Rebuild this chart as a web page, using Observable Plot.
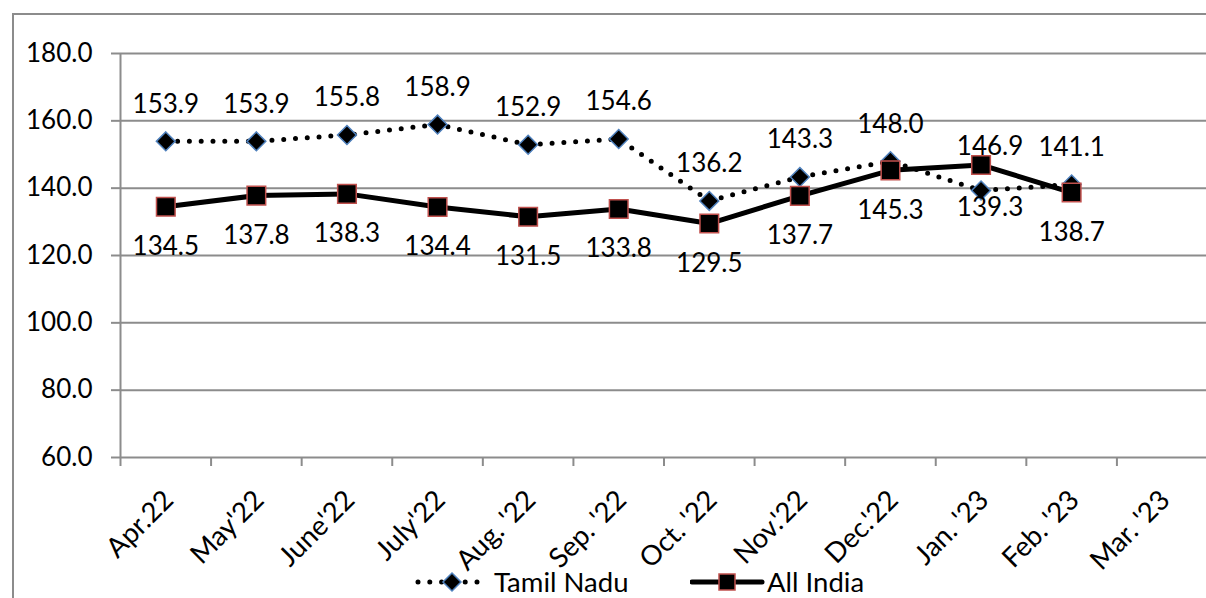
<!DOCTYPE html>
<html><head><meta charset="utf-8">
<script src="https://cdn.jsdelivr.net/npm/d3@7"></script>
<script src="https://cdn.jsdelivr.net/npm/@observablehq/plot@0.6"></script>
<style>
html,body{margin:0;padding:0;background:#fff;overflow:hidden}
#wrap{position:relative;width:1206px;height:598px;overflow:hidden;font-family:Lato,sans-serif;color:#000}
#frame{position:absolute;left:12px;top:13px;width:1300px;height:700px;border:2px solid #8c8c8c;box-sizing:border-box}
#chart{position:absolute;left:0;top:0}
.lg{position:absolute;top:566px;height:32px;display:flex;align-items:center;font-size:27.5px;line-height:32px}
.lg svg{display:block}
</style>
</head><body>
<div id="wrap">
  <div id="frame"></div>
  <div id="chart"></div>
  <div class="lg" style="left:414px">
    <svg width="72" height="32"><line x1="4" y1="16" x2="68" y2="16" stroke="#000" stroke-width="5" stroke-dasharray="0 11.8" stroke-linecap="round"/><path d="M38,7L47,16L38,25L29,16Z" fill="#000" stroke="#4f81bd" stroke-width="1.5"/></svg>
    <span style="margin-left:8px">Tamil Nadu</span>
  </div>
  <div class="lg" style="left:690px">
    <svg width="76" height="32"><line x1="2" y1="16" x2="72" y2="16" stroke="#000" stroke-width="5" stroke-linecap="round"/><rect x="29" y="8" width="16" height="16" fill="#000" stroke="#c0504d" stroke-width="1.5"/></svg>
    <span style="margin-left:1px">All India</span>
  </div>
</div>
<script>
const months = ["Apr.22","May'22","June'22","July'22","Aug. '22","Sep. '22","Oct. '22","Nov.'22","Dec.'22","Jan. '23","Feb. '23","Mar. '23"];
const tamilNadu = [153.9, 153.9, 155.8, 158.9, 152.9, 154.6, 136.2, 143.3, 148.0, 139.3, 141.1];
const allIndia  = [134.5, 137.8, 138.3, 134.4, 131.5, 133.8, 129.5, 137.7, 145.3, 146.9, 138.7];
const yTicks = [60, 80, 100, 120, 140, 160, 180];

const tn = tamilNadu.map((v, i) => ({i, v, other: allIndia[i]}));
const ai = allIndia.map((v, i) => ({i, v, other: tamilNadu[i]}));
const fmt = d => d.v.toFixed(1);
const grid = "#8c8c8c";
const fs = 26;

const chart = Plot.plot({
  width: 1206,
  height: 560,
  marginLeft: 120,
  marginRight: -1,
  marginTop: 53,
  marginBottom: 103,
  x: {type: "linear", domain: [-0.5, months.length - 0.5]},
  y: {domain: [60, 180]},
  style: {fontFamily: "Lato, sans-serif", fontSize: fs + "px", color: "#000", background: "transparent", overflow: "visible"},
  marks: [
    Plot.gridY(yTicks, {stroke: grid, strokeOpacity: 1, strokeWidth: 2}),
    Plot.axisY(yTicks, {tickSize: 9, tickPadding: 19, stroke: grid, strokeWidth: 2, tickFormat: d => d.toFixed(1), label: null, fontSize: fs}),
    Plot.axisX(d3.range(months.length + 1).map(k => k - 0.5), {tickSize: 9, stroke: grid, strokeWidth: 2, tickFormat: () => "", label: null}),
    Plot.axisX(d3.range(months.length), {tickSize: 0, tickPadding: 38, dx: 3, tickRotate: -45, tickFormat: i => months[i], label: null, fontSize: 27.5}),
    Plot.ruleX([-0.5], {stroke: grid, strokeWidth: 2}),
    Plot.line(tn, {x: "i", y: "v", stroke: "#000", strokeWidth: 5, strokeDasharray: "0 11.8", strokeLinecap: "round"}),
    Plot.dot(tn, {x: "i", y: "v", symbol: "diamond2", r: 8.5, fill: "#000", stroke: "#4f81bd", strokeWidth: 1.5}),
    Plot.line(ai, {x: "i", y: "v", stroke: "#000", strokeWidth: 5}),
    Plot.dot(ai, {x: "i", y: "v", symbol: "square", r: 10.5, fill: "#000", stroke: "#c0504d", strokeWidth: 1.5}),
    Plot.text(tn.filter(d => d.v >= d.other), {x: "i", y: "v", text: fmt, dy: -37, lineAnchor: "middle", fontSize: fs}),
    Plot.text(tn.filter(d => d.v < d.other), {x: "i", y: "v", text: fmt, dy: 17, dx: 9, lineAnchor: "middle", fontSize: fs}),
    Plot.text(ai.filter(d => d.v <= d.other), {x: "i", y: "v", text: fmt, dy: 40, lineAnchor: "middle", fontSize: fs}),
    Plot.text(ai.filter(d => d.v > d.other), {x: "i", y: "v", text: fmt, dy: -18, dx: 9, lineAnchor: "middle", fontSize: fs})
  ]
});
document.getElementById("chart").appendChild(chart);
</script>
</body></html>
